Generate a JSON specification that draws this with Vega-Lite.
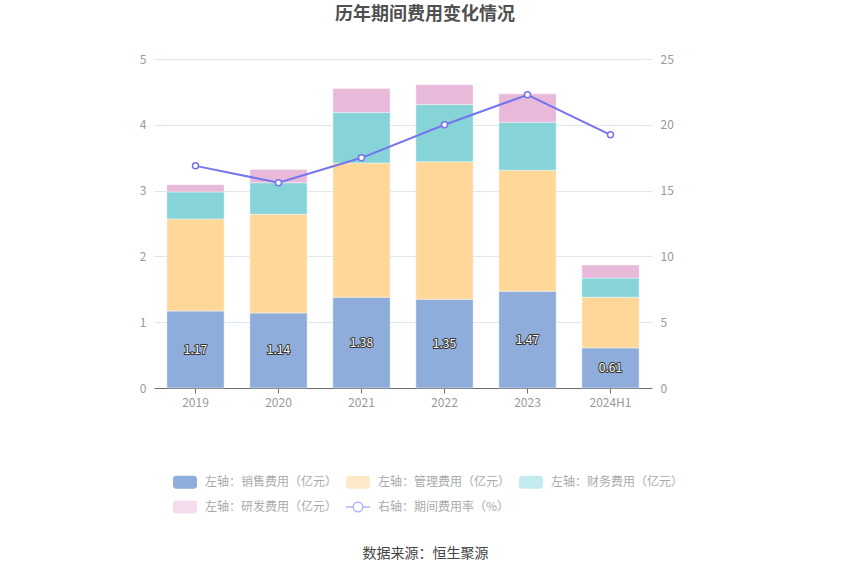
{
  "$schema": "https://vega.github.io/schema/vega-lite/v6.json",
  "width": 498,
  "height": 329,
  "autosize": {"type": "none"},
  "padding": {"left": 154, "top": 59, "right": 198, "bottom": 187},
  "background": "#ffffff",
  "config": {
    "font": "Noto Sans CJK SC",
    "view": {"stroke": null},
    "legend": {"symbolFillColor": "#ffffff"}
  },
  "title": {
    "text": "历年期间费用变化情况",
    "fontSize": 18,
    "fontWeight": "bold",
    "color": "#505050",
    "anchor": "middle",
    "frame": "group",
    "dx": 22,
    "offset": 29
  },
  "datasets": {
    "costs": [
      {"year": "2019", "type": "左轴：销售费用（亿元）", "v": 1.17},
      {"year": "2019", "type": "左轴：管理费用（亿元）", "v": 1.40},
      {"year": "2019", "type": "左轴：财务费用（亿元）", "v": 0.41},
      {"year": "2019", "type": "左轴：研发费用（亿元）", "v": 0.11},
      {"year": "2020", "type": "左轴：销售费用（亿元）", "v": 1.14},
      {"year": "2020", "type": "左轴：管理费用（亿元）", "v": 1.50},
      {"year": "2020", "type": "左轴：财务费用（亿元）", "v": 0.48},
      {"year": "2020", "type": "左轴：研发费用（亿元）", "v": 0.20},
      {"year": "2021", "type": "左轴：销售费用（亿元）", "v": 1.38},
      {"year": "2021", "type": "左轴：管理费用（亿元）", "v": 2.04},
      {"year": "2021", "type": "左轴：财务费用（亿元）", "v": 0.77},
      {"year": "2021", "type": "左轴：研发费用（亿元）", "v": 0.36},
      {"year": "2022", "type": "左轴：销售费用（亿元）", "v": 1.35},
      {"year": "2022", "type": "左轴：管理费用（亿元）", "v": 2.09},
      {"year": "2022", "type": "左轴：财务费用（亿元）", "v": 0.87},
      {"year": "2022", "type": "左轴：研发费用（亿元）", "v": 0.30},
      {"year": "2023", "type": "左轴：销售费用（亿元）", "v": 1.47},
      {"year": "2023", "type": "左轴：管理费用（亿元）", "v": 1.84},
      {"year": "2023", "type": "左轴：财务费用（亿元）", "v": 0.73},
      {"year": "2023", "type": "左轴：研发费用（亿元）", "v": 0.43},
      {"year": "2024H1", "type": "左轴：销售费用（亿元）", "v": 0.61},
      {"year": "2024H1", "type": "左轴：管理费用（亿元）", "v": 0.77},
      {"year": "2024H1", "type": "左轴：财务费用（亿元）", "v": 0.29},
      {"year": "2024H1", "type": "左轴：研发费用（亿元）", "v": 0.20}
    ],
    "rate": [
      {"year": "2019", "rate": 16.88},
      {"year": "2020", "rate": 15.6},
      {"year": "2021", "rate": 17.49},
      {"year": "2022", "rate": 20.0},
      {"year": "2023", "rate": 22.28},
      {"year": "2024H1", "rate": 19.24}
    ],
    "series": [
      {"type": "左轴：销售费用（亿元）"},
      {"type": "左轴：管理费用（亿元）"},
      {"type": "左轴：财务费用（亿元）"},
      {"type": "左轴：研发费用（亿元）"},
      {"type": "右轴：期间费用率（%）"}
    ]
  },
  "layer": [
    {
      "data": {"name": "costs"},
      "transform": [
        {"calculate": "indexof(['左轴：销售费用（亿元）', '左轴：管理费用（亿元）', '左轴：财务费用（亿元）', '左轴：研发费用（亿元）'], datum.type)", "as": "ord"}
      ],
      "mark": {"type": "bar", "stroke": "#ffffff", "strokeWidth": 0.6, "strokeOpacity": 0.7},
      "encoding": {
        "x": {
          "field": "year",
          "type": "nominal",
          "sort": null,
          "scale": {"paddingInner": 0.31, "paddingOuter": 0.155},
          "axis": {
            "labelAngle": 0,
            "labelColor": "#999999",
            "labelFontSize": 12,
            "labelPadding": 4,
            "domainColor": "#6e7079",
            "tickColor": "#6e7079",
            "tickSize": 5,
            "title": "数据来源：恒生聚源",
            "titleFontSize": 14,
            "titleFontWeight": "normal",
            "titleColor": "#444444",
            "titleX": 271,
            "titleY": 165,
            "titleBaseline": "middle"
          }
        },
        "y": {
          "field": "v",
          "type": "quantitative",
          "stack": "zero",
          "scale": {"domain": [0, 5]},
          "axis": {
            "orient": "left",
            "title": null,
            "values": [0, 1, 2, 3, 4, 5],
            "domain": false,
            "ticks": false,
            "labelColor": "#999999",
            "labelFontSize": 12,
            "labelPadding": 8,
            "gridColor": "#e0e6f1"
          }
        },
        "order": {"field": "ord", "type": "quantitative"},
        "color": {
          "field": "type",
          "type": "nominal",
          "scale": {
            "domain": ["左轴：销售费用（亿元）", "左轴：管理费用（亿元）", "左轴：财务费用（亿元）", "左轴：研发费用（亿元）"],
            "range": ["#8eaddb", "#ffd899", "#86d4d8", "#e8b9d9"]
          },
          "legend": null
        }
      }
    },
    {
      "data": {"name": "rate"},
      "mark": {"type": "line", "color": "#7474ee", "strokeWidth": 2, "point": {"filled": true, "fill": "#ffffff", "stroke": "#7474ee", "strokeWidth": 1.5, "size": 36}},
      "encoding": {
        "x": {"field": "year", "type": "nominal", "sort": null},
        "y": {
          "field": "rate",
          "type": "quantitative",
          "scale": {"domain": [0, 25]},
          "axis": {
            "orient": "right",
            "title": null,
            "values": [0, 5, 10, 15, 20, 25],
            "domain": false,
            "ticks": false,
            "grid": false,
            "labelColor": "#999999",
            "labelFontSize": 12,
            "labelPadding": 8
          }
        }
      }
    },
    {
      "data": {"name": "costs"},
      "transform": [{"filter": "datum.type === '左轴：销售费用（亿元）'"}],
      "mark": {"type": "text", "fontSize": 12, "fill": "#333333", "stroke": "#333333", "strokeWidth": 2, "strokeJoin": "round", "baseline": "middle"},
      "encoding": {
        "x": {"field": "year", "type": "nominal", "sort": null},
        "y": {"field": "v", "type": "quantitative", "scale": {"domain": [0, 10]}, "axis": null},
        "text": {"field": "v", "type": "quantitative", "format": ".2f"}
      }
    },
    {
      "data": {"name": "costs"},
      "transform": [{"filter": "datum.type === '左轴：销售费用（亿元）'"}],
      "mark": {"type": "text", "fontSize": 12, "fill": "#ffffff", "baseline": "middle"},
      "encoding": {
        "x": {"field": "year", "type": "nominal", "sort": null},
        "y": {"field": "v", "type": "quantitative", "scale": {"domain": [0, 10]}, "axis": null},
        "text": {"field": "v", "type": "quantitative", "format": ".2f"}
      }
    },
    {
      "data": {"name": "series"},
      "mark": {"type": "point", "filled": true, "opacity": 0},
      "encoding": {
        "x": {"datum": "2019", "type": "nominal"},
        "fill": {
          "field": "type",
          "type": "nominal",
          "scale": {
            "domain": ["左轴：销售费用（亿元）", "左轴：管理费用（亿元）", "左轴：财务费用（亿元）", "左轴：研发费用（亿元）", "右轴：期间费用率（%）"],
            "range": ["#8eaddb", "#fde9c9", "#c3ebed", "#f3dcee", "#ffffff"]
          },
          "legend": {
            "orient": "none",
            "direction": "horizontal",
            "legendX": 18,
            "legendY": 410,
            "title": null,
            "columns": 3,
            "columnPadding": 5,
            "rowPadding": 2,
            "padding": 0,
            "symbolSize": 576,
            "symbolOpacity": 1,
            "symbolStrokeWidth": 1.5,
            "labelOffset": 7,
            "labelFontSize": 12,
            "labelColor": "#aaaaaa",
            "labelLimit": 200
          }
        },
        "stroke": {
          "field": "type",
          "type": "nominal",
          "scale": {
            "domain": ["左轴：销售费用（亿元）", "左轴：管理费用（亿元）", "左轴：财务费用（亿元）", "左轴：研发费用（亿元）", "右轴：期间费用率（%）"],
            "range": ["transparent", "transparent", "transparent", "transparent", "#b3b3f6"]
          }
        },
        "shape": {
          "field": "type",
          "type": "nominal",
          "scale": {
            "domain": ["左轴：销售费用（亿元）", "左轴：管理费用（亿元）", "左轴：财务费用（亿元）", "左轴：研发费用（亿元）", "右轴：期间费用率（%）"],
            "range": [
              "M-0.75,-0.54H0.75A0.25,0.25,0,0,1,1,-0.29V0.29A0.25,0.25,0,0,1,0.75,0.54H-0.75A0.25,0.25,0,0,1,-1,0.29V-0.29A0.25,0.25,0,0,1,-0.75,-0.54Z",
              "M-0.75,-0.54H0.75A0.25,0.25,0,0,1,1,-0.29V0.29A0.25,0.25,0,0,1,0.75,0.54H-0.75A0.25,0.25,0,0,1,-1,0.29V-0.29A0.25,0.25,0,0,1,-0.75,-0.54Z",
              "M-0.75,-0.54H0.75A0.25,0.25,0,0,1,1,-0.29V0.29A0.25,0.25,0,0,1,0.75,0.54H-0.75A0.25,0.25,0,0,1,-1,0.29V-0.29A0.25,0.25,0,0,1,-0.75,-0.54Z",
              "M-0.75,-0.54H0.75A0.25,0.25,0,0,1,1,-0.29V0.29A0.25,0.25,0,0,1,0.75,0.54H-0.75A0.25,0.25,0,0,1,-1,0.29V-0.29A0.25,0.25,0,0,1,-0.75,-0.54Z",
              "M-1,0H-0.4M0.4,0H1M-0.4,0A0.4,0.4,0,1,1,0.4,0A0.4,0.4,0,1,1,-0.4,0Z"
            ]
          }
        }
      }
    }
  ],
  "resolve": {"scale": {"y": "independent"}}
}
